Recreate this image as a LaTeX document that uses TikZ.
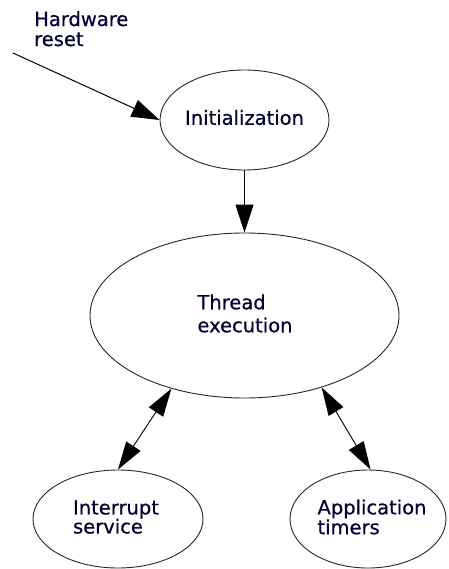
\documentclass[tikz,border=0pt]{standalone}
\usepackage{fontspec}
\setmainfont{DejaVu Sans}[FakeBold=0.5]
\usetikzlibrary{arrows.meta,shapes.geometric}
\begin{document}
\begin{tikzpicture}[x=1pt,y=-1pt,
  stateshape/.style={ellipse,draw=black!85,line width=0.9pt,inner sep=0pt},
  statetext/.style={align=left,inner sep=0pt,text=black!80!blue},
  flow/.style={line width=1pt,draw=black,-{Triangle[length=28pt,width=18pt]}},
  bothflow/.style={line width=0.9pt,draw=black,{Triangle[length=28pt,width=17pt]}-{Triangle[length=28pt,width=17pt]}}]
\useasboundingbox (0,0) rectangle (448,569);
\fontsize{19.5}{21}\selectfont
% nodes
\node[stateshape,minimum width=169pt,minimum height=100pt] (init) at (244.5,120) {};
\node[statetext] (inittxt) at (244.5,117.5) {Initialization};
\node[stateshape,minimum width=309pt,minimum height=165pt] (thread) at (244.5,315.5) {};
\node[statetext,font=\fontsize{19.5}{23}\selectfont] (threadtxt) at (245,313.5) {Thread\\execution};
\node[stateshape,minimum width=170pt,minimum height=98pt] (isr) at (118,519) {};
\node[statetext,font=\fontsize{19.5}{19}\selectfont] (isrtxt) at (116,517) {Interrupt\\service};
\node[stateshape,minimum width=156pt,minimum height=98pt] (timers) at (368,519) {};
\node[statetext,font=\fontsize{19.5}{18}\selectfont] (timerstxt) at (372,517) {Application\\timers};
\node[statetext,font=\fontsize{19.5}{20}\selectfont,anchor=north west] (hwtxt) at (34,11) {Hardware\\reset};
\coordinate (hwstart) at (13,53);
% connectors
\draw[flow] (hwstart) -- (init.west);
\draw[flow] (init.south) -- (thread.north);
\draw[bothflow] (isr.north) -- (thread.-135);
\draw[bothflow] (timers.87) -- (thread.-43);
\end{tikzpicture}
\end{document}
